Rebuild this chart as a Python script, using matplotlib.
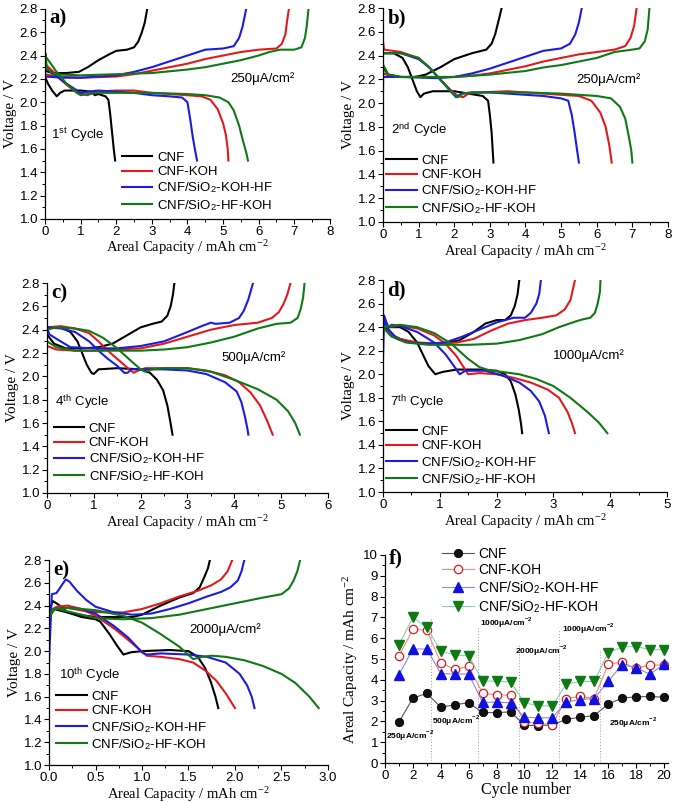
import numpy as np
import matplotlib
matplotlib.use('Agg')
import matplotlib.pyplot as plt
from matplotlib.ticker import MultipleLocator, FormatStrFormatter

# ---------------- data: (capacity, voltage) pairs ----------------
# panel a (1st cycle, 250 uA/cm2)
a_cnf_d = [(0,2.22),(0.08,2.16),(0.2,2.1),(0.33,2.05),(0.42,2.08),(0.55,2.1),(1.0,2.1),(1.3,2.09),(1.4,2.06),(1.5,2.07),(1.7,2.05),(1.78,2.02),(1.83,1.9),(1.88,1.75),(1.93,1.6),(1.97,1.5)]
a_cnf_c = [(0,2.27),(0.2,2.25),(0.6,2.25),(0.95,2.26),(1.2,2.3),(1.5,2.36),(1.8,2.41),(2.0,2.44),(2.3,2.45),(2.5,2.47),(2.62,2.52),(2.72,2.6),(2.8,2.68),(2.87,2.8)]
a_koh_d = [(0,2.33),(0.3,2.24),(0.6,2.15),(0.9,2.08),(1.05,2.07),(1.2,2.06),(1.4,2.09),(2.0,2.1),(2.5,2.1),(3.0,2.08),(3.5,2.07),(4.0,2.06),(4.4,2.05),(4.65,2.02),(4.85,1.94),(5.0,1.82),(5.08,1.72),(5.13,1.6),(5.15,1.5)]
a_koh_c = [(0,2.24),(0.3,2.22),(1.0,2.21),(2.0,2.22),(2.5,2.24),(3.0,2.27),(3.5,2.3),(4.0,2.33),(4.5,2.37),(5.0,2.4),(5.5,2.43),(6.0,2.45),(6.5,2.46),(6.65,2.5),(6.75,2.58),(6.8,2.7),(6.85,2.8)]
a_kh_d = [(0,2.3),(0.5,2.18),(1.0,2.08),(1.2,2.09),(1.5,2.1),(2.0,2.09),(2.5,2.08),(3.0,2.06),(3.5,2.05),(3.85,2.04),(4.0,2.0),(4.08,1.85),(4.15,1.7),(4.22,1.58),(4.27,1.5)]
a_kh_c = [(0,2.22),(0.5,2.21),(1.0,2.21),(1.5,2.22),(2.0,2.23),(2.5,2.26),(3.0,2.3),(3.5,2.35),(4.0,2.4),(4.4,2.44),(4.5,2.45),(5.0,2.46),(5.3,2.48),(5.45,2.55),(5.55,2.65),(5.65,2.8)]
a_hk_d = [(0,2.4),(0.3,2.27),(0.6,2.16),(0.9,2.08),(1.0,2.06),(1.2,2.07),(1.5,2.08),(2.0,2.08),(3.0,2.08),(4.0,2.07),(4.5,2.06),(4.9,2.04),(5.15,2.0),(5.3,1.93),(5.45,1.8),(5.55,1.68),(5.65,1.57),(5.7,1.5)]
a_hk_c = [(0,2.06),(0.01,2.42),(0.05,2.3),(0.2,2.24),(1.0,2.23),(2.0,2.24),(3.0,2.25),(4.0,2.28),(4.5,2.3),(5.0,2.33),(5.5,2.36),(6.0,2.4),(6.3,2.43),(6.6,2.45),(7.0,2.45),(7.2,2.47),(7.3,2.55),(7.35,2.65),(7.4,2.8)]

# panel b (2nd cycle, 250 uA/cm2)
b_cnf_d = [(0,2.42),(0.3,2.42),(0.55,2.38),(0.7,2.3),(0.85,2.18),(0.95,2.1),(1.05,2.05),(1.15,2.08),(1.4,2.1),(2.0,2.1),(2.4,2.08),(2.8,2.06),(2.95,2.02),(3.0,1.9),(3.05,1.75),(3.08,1.6),(3.1,1.5)]
b_cnf_c = [(0,2.3),(0.15,2.24),(0.5,2.22),(0.9,2.22),(1.2,2.24),(1.6,2.3),(2.0,2.37),(2.5,2.42),(2.9,2.45),(3.05,2.5),(3.15,2.58),(3.25,2.7),(3.33,2.8)]
b_koh_d = [(0,2.52),(0.03,2.45),(0.5,2.43),(1.0,2.38),(1.3,2.3),(1.6,2.2),(1.9,2.11),(2.1,2.06),(2.25,2.05),(2.4,2.08),(2.7,2.09),(3.5,2.1),(4.5,2.08),(5.5,2.06),(5.85,2.02),(6.1,1.92),(6.25,1.8),(6.35,1.65),(6.42,1.5)]
b_koh_c = [(0,2.25),(0.3,2.22),(1.0,2.22),(2.0,2.22),(2.5,2.23),(3.0,2.25),(3.5,2.28),(4.0,2.31),(4.5,2.35),(5.0,2.38),(5.5,2.41),(6.0,2.43),(6.5,2.45),(6.8,2.48),(6.95,2.55),(7.05,2.65),(7.12,2.8)]
b_kh_d = [(0,2.42),(0.5,2.42),(1.0,2.37),(1.3,2.3),(1.6,2.2),(1.9,2.1),(2.05,2.05),(2.2,2.08),(2.5,2.09),(3.0,2.09),(3.5,2.08),(4.0,2.07),(4.5,2.06),(5.0,2.04),(5.2,2.02),(5.3,1.9),(5.38,1.75),(5.45,1.6),(5.5,1.5)]
b_kh_c = [(0,2.22),(0.5,2.22),(1.5,2.21),(2.0,2.22),(2.5,2.25),(3.0,2.29),(3.5,2.34),(4.0,2.39),(4.4,2.43),(4.5,2.44),(5.0,2.46),(5.25,2.5),(5.4,2.58),(5.5,2.68),(5.58,2.8)]
b_hk_d = [(0,2.42),(0.5,2.42),(1.0,2.38),(1.3,2.3),(1.6,2.2),(1.9,2.1),(2.1,2.05),(2.25,2.08),(2.5,2.09),(3.0,2.09),(4.0,2.09),(5.0,2.08),(6.0,2.06),(6.4,2.04),(6.65,1.97),(6.8,1.87),(6.9,1.72),(6.97,1.6),(7.0,1.5)]
b_hk_c = [(0,2.1),(0.01,2.32),(0.15,2.24),(0.5,2.22),(1.0,2.22),(2.0,2.22),(3.0,2.24),(4.0,2.27),(4.5,2.3),(5.0,2.32),(5.5,2.35),(6.0,2.38),(6.5,2.43),(7.0,2.45),(7.2,2.46),(7.35,2.52),(7.43,2.62),(7.48,2.8)]

# panel c (4th cycle, 500 uA/cm2)
c_cnf_d = [(0,2.42),(0.3,2.42),(0.5,2.38),(0.65,2.3),(0.75,2.2),(0.85,2.1),(0.95,2.03),(1.0,2.02),(1.1,2.06),(1.5,2.07),(2.0,2.06),(2.2,2.03),(2.35,1.97),(2.48,1.88),(2.57,1.75),(2.63,1.62),(2.68,1.5)]
c_cnf_c = [(0,2.36),(0.15,2.28),(0.4,2.24),(0.8,2.24),(1.1,2.25),(1.4,2.28),(1.7,2.35),(2.0,2.42),(2.25,2.45),(2.45,2.47),(2.57,2.52),(2.64,2.6),(2.69,2.7),(2.72,2.8)]
c_koh_d = [(0,2.42),(0.3,2.43),(0.6,2.41),(0.9,2.37),(1.1,2.3),(1.3,2.22),(1.5,2.15),(1.7,2.08),(1.85,2.03),(1.95,2.05),(2.1,2.07),(2.5,2.07),(3.0,2.07),(3.4,2.05),(3.8,2.01),(4.1,1.95),(4.35,1.86),(4.55,1.75),(4.7,1.62),(4.82,1.5)]
c_koh_c = [(0,2.26),(0.2,2.23),(0.6,2.22),(1.0,2.22),(1.5,2.23),(2.0,2.24),(2.5,2.28),(3.0,2.34),(3.5,2.4),(4.0,2.44),(4.5,2.46),(4.8,2.5),(4.95,2.55),(5.05,2.62),(5.13,2.7),(5.2,2.8)]
c_kh_d = [(0,2.42),(0.3,2.41),(0.6,2.38),(0.9,2.3),(1.1,2.22),(1.3,2.15),(1.5,2.09),(1.65,2.03),(1.72,2.03),(1.8,2.06),(2.5,2.06),(3.0,2.05),(3.4,2.02),(3.8,1.95),(4.05,1.87),(4.15,1.78),(4.23,1.65),(4.28,1.55),(4.3,1.5)]
c_kh_c = [(0,2.42),(0.05,2.36),(0.25,2.31),(0.5,2.25),(1.0,2.24),(1.5,2.24),(2.0,2.26),(2.5,2.3),(3.0,2.38),(3.3,2.43),(3.5,2.46),(3.6,2.45),(3.9,2.46),(4.1,2.5),(4.2,2.56),(4.3,2.66),(4.4,2.8)]
c_hk_d = [(0,2.4),(0.2,2.42),(0.6,2.41),(0.9,2.39),(1.2,2.33),(1.5,2.24),(1.8,2.13),(2.0,2.06),(2.1,2.04),(2.25,2.06),(2.5,2.07),(3.0,2.07),(3.5,2.04),(4.0,1.97),(4.5,1.89),(4.9,1.8),(5.15,1.7),(5.3,1.6),(5.4,1.5)]
c_hk_c = [(0,2.3),(0.2,2.25),(0.6,2.22),(1.0,2.22),(2.0,2.22),(2.5,2.23),(3.0,2.25),(3.5,2.29),(4.0,2.34),(4.5,2.41),(4.9,2.45),(5.2,2.46),(5.35,2.5),(5.42,2.58),(5.47,2.68),(5.5,2.8)]

# panel d (7th cycle, 1000 uA/cm2)
d_cnf_d = [(0,2.4),(0.3,2.4),(0.45,2.36),(0.6,2.27),(0.7,2.17),(0.8,2.07),(0.92,2.0),(1.05,2.02),(1.3,2.04),(1.7,2.04),(2.0,2.03),(2.15,2.0),(2.25,1.94),(2.33,1.83),(2.39,1.7),(2.43,1.58),(2.45,1.5)]
d_cnf_c = [(0,2.42),(0.12,2.34),(0.3,2.3),(0.5,2.27),(0.8,2.26),(1.1,2.26),(1.35,2.29),(1.6,2.36),(1.8,2.43),(2.0,2.46),(2.15,2.46),(2.25,2.5),(2.32,2.58),(2.37,2.68),(2.4,2.8)]
d_koh_d = [(0,2.4),(0.3,2.41),(0.6,2.39),(0.9,2.33),(1.1,2.26),(1.3,2.15),(1.42,2.06),(1.5,2.0),(1.7,2.01),(2.0,2.0),(2.3,1.97),(2.6,1.93),(2.9,1.87),(3.1,1.8),(3.25,1.68),(3.33,1.58),(3.38,1.5)]
d_koh_c = [(0,2.4),(0.1,2.35),(0.3,2.3),(0.6,2.27),(1.0,2.26),(1.3,2.27),(1.6,2.3),(1.9,2.37),(2.2,2.43),(2.5,2.46),(2.8,2.48),(3.05,2.5),(3.2,2.55),(3.3,2.63),(3.38,2.8)]
d_kh_d = [(0,2.12),(0.02,2.5),(0.06,2.44),(0.1,2.4),(0.15,2.42),(0.3,2.41),(0.6,2.36),(0.9,2.27),(1.1,2.17),(1.25,2.07),(1.35,2.0),(1.45,2.03),(1.8,2.03),(2.1,1.99),(2.4,1.93),(2.6,1.86),(2.75,1.77),(2.85,1.65),(2.92,1.5)]
d_kh_c = [(0.02,2.45),(0.1,2.38),(0.25,2.3),(0.45,2.27),(0.8,2.26),(1.1,2.27),(1.4,2.32),(1.7,2.38),(2.0,2.44),(2.3,2.48),(2.5,2.48),(2.6,2.52),(2.7,2.6),(2.75,2.68),(2.78,2.8)]
d_hk_d = [(0,2.4),(0.3,2.42),(0.6,2.4),(0.9,2.35),(1.2,2.26),(1.5,2.13),(1.7,2.06),(1.9,2.03),(2.1,2.02),(2.4,2.0),(2.7,1.96),(3.0,1.9),(3.3,1.8),(3.6,1.68),(3.8,1.59),(3.95,1.5)]
d_hk_c = [(0,2.4),(0.15,2.32),(0.4,2.27),(0.8,2.25),(1.5,2.25),(2.0,2.26),(2.4,2.29),(2.8,2.34),(3.1,2.4),(3.4,2.45),(3.55,2.47),(3.65,2.48),(3.73,2.52),(3.78,2.6),(3.82,2.7),(3.83,2.8)]

# panel e (10th cycle, 2000 uA/cm2)
e_cnf_d = [(0,2.35),(0.04,2.44),(0.1,2.41),(0.2,2.34),(0.35,2.3),(0.5,2.28),(0.55,2.26),(0.65,2.15),(0.73,2.05),(0.8,1.97),(0.88,1.99),(1.0,2.0),(1.3,2.01),(1.5,2.0),(1.6,1.95),(1.68,1.85),(1.74,1.73),(1.79,1.6),(1.82,1.5)]
e_cnf_c = [(0,2.3),(0.05,2.37),(0.15,2.35),(0.3,2.32),(0.5,2.3),(0.7,2.3),(0.9,2.3),(1.0,2.32),(1.2,2.4),(1.4,2.47),(1.55,2.51),(1.62,2.56),(1.67,2.65),(1.71,2.73),(1.73,2.8)]
e_koh_d = [(0,2.3),(0.08,2.39),(0.2,2.4),(0.35,2.37),(0.5,2.31),(0.7,2.2),(0.85,2.1),(0.95,2.03),(1.05,1.96),(1.2,1.95),(1.4,1.93),(1.55,1.9),(1.68,1.83),(1.8,1.74),(1.9,1.63),(2.0,1.5)]
e_koh_c = [(0,2.3),(0.05,2.37),(0.2,2.38),(0.4,2.35),(0.6,2.34),(0.8,2.34),(1.0,2.37),(1.2,2.42),(1.4,2.48),(1.6,2.53),(1.75,2.58),(1.85,2.63),(1.92,2.7),(1.97,2.8)]
e_kh_d = [(0,2.3),(0.05,2.37),(0.2,2.38),(0.35,2.37),(0.5,2.33),(0.7,2.22),(0.85,2.12),(1.0,1.99),(1.05,1.97),(1.2,1.98),(1.5,1.97),(1.7,1.95),(1.9,1.9),(2.05,1.8),(2.13,1.7),(2.18,1.6),(2.21,1.5)]
e_kh_c = [(0,1.9),(0.02,2.3),(0.03,2.5),(0.08,2.51),(0.13,2.57),(0.18,2.63),(0.22,2.61),(0.3,2.53),(0.4,2.45),(0.5,2.39),(0.7,2.34),(0.9,2.32),(1.1,2.33),(1.3,2.37),(1.5,2.42),(1.7,2.48),(1.85,2.52),(1.95,2.56),(2.03,2.62),(2.07,2.7),(2.1,2.8)]
e_hk_d = [(0,2.3),(0.06,2.37),(0.2,2.38),(0.5,2.36),(0.8,2.31),(1.0,2.25),(1.2,2.15),(1.4,2.04),(1.55,1.93),(1.65,1.95),(1.75,1.96),(1.9,1.95),(2.1,1.92),(2.3,1.87),(2.5,1.8),(2.65,1.72),(2.8,1.6),(2.9,1.5)]
e_hk_c = [(0,2.32),(0.06,2.38),(0.15,2.36),(0.3,2.33),(0.5,2.29),(0.8,2.28),(1.1,2.29),(1.4,2.32),(1.7,2.37),(2.0,2.42),(2.3,2.47),(2.5,2.5),(2.58,2.55),(2.63,2.62),(2.67,2.7),(2.7,2.8)]

# panel f (rate capability)
cycles = list(range(1, 21))
f_cnf = [1.97, 3.12, 3.35, 2.68, 2.8, 2.9, 2.43, 2.42, 2.46, 1.82, 1.8, 1.83, 2.1, 2.2, 2.28, 2.83, 3.12, 3.18, 3.2, 3.16]
f_koh = [5.15, 6.42, 6.38, 4.82, 4.5, 4.65, 3.35, 3.28, 3.25, 1.97, 1.9, 1.85, 3.1, 3.2, 3.1, 4.75, 4.85, 4.55, 4.72, 4.7]
f_kh = [4.25, 5.48, 5.48, 4.3, 4.28, 4.28, 2.92, 2.92, 2.9, 2.2, 2.17, 2.18, 2.93, 3.05, 3.1, 3.92, 4.72, 4.58, 4.27, 4.75]
f_hk = [5.68, 7.0, 6.52, 5.38, 5.2, 5.15, 3.95, 3.93, 3.9, 2.9, 2.75, 2.75, 3.8, 3.92, 3.92, 5.3, 5.58, 5.6, 5.45, 5.45]
f_dividers = [3.3, 6.7, 9.6, 12.5, 15.4]
f_divider_tops = [6.9, 6.6, 5.7, 6.4, 5.5]
f_rates = ['250', '500', '1000', '2000', '1000', '250']
f_rate_xy = [(0.05, 1.28), (3.4, 2.0), (6.8, 6.72), (9.35, 5.36), (12.7, 6.43), (16.1, 1.92)]

labels = ['CNF', 'CNF-KOH', r'CNF/SiO$_\mathregular{2}$-KOH-HF', r'CNF/SiO$_\mathregular{2}$-HF-KOH']
colors = ['#000000', '#e3191c', '#1c1ce0', '#0f7a14']

# ---------------- style ----------------
plt.rcParams['font.family'] = ['Liberation Sans', 'DejaVu Sans']
plt.rcParams['mathtext.fontset'] = 'stix'
SERIF = ['Liberation Serif', 'DejaVu Serif']
XLABEL = r'Areal Capacity / mAh cm$^{\mathregular{-2}}$'

fig = plt.figure(figsize=(6.75, 8.02), dpi=100)


def style_axes(ax):
    for s in ('top', 'right'):
        ax.spines[s].set_visible(False)
    for s in ('left', 'bottom'):
        ax.spines[s].set_linewidth(0.9)
    ax.tick_params(which='major', direction='out', length=3.5, width=0.8, labelsize=9.5, pad=1.5)
    ax.tick_params(which='minor', direction='out', length=2, width=0.7)


def vc_panel(rect, sets, xmax, xstep, xfmt, letter, rate, rate_xy, cyc, cyc_xy, leg_anchor):
    ax = fig.add_axes(rect)
    style_axes(ax)
    for (dis, chg), col, lab in zip(sets, colors, labels):
        d = np.array(dis)
        c = np.array(chg)
        ax.plot(d[:, 0], d[:, 1], color=col, lw=1.5, label=lab, solid_joinstyle='round')
        ax.plot(c[:, 0], c[:, 1], color=col, lw=1.5, solid_joinstyle='round')
    ax.set_xlim(0, xmax)
    ax.set_ylim(1.0, 2.8)
    ax.xaxis.set_major_locator(MultipleLocator(xstep))
    ax.xaxis.set_minor_locator(MultipleLocator(xstep / 2))
    ax.xaxis.set_major_formatter(FormatStrFormatter(xfmt))
    ax.yaxis.set_major_locator(MultipleLocator(0.2))
    ax.yaxis.set_minor_locator(MultipleLocator(0.1))
    ax.yaxis.set_major_formatter(FormatStrFormatter('%.1f'))
    ax.set_xlabel(XLABEL, family=SERIF, fontsize=10.5, labelpad=0)
    ax.set_ylabel('Voltage / V', family=SERIF, fontsize=11, labelpad=2)
    ax.text(0.015, 1.0, letter, transform=ax.transAxes, ha='left', va='top',
            family=SERIF, fontweight='bold', fontsize=15)
    ax.text(rate_xy[0], rate_xy[1], rate + 'μA/cm²', ha='left', va='center', fontsize=9.5)
    ax.text(cyc_xy[0], cyc_xy[1], cyc + ' Cycle', ha='left', va='center', fontsize=9.5)
    ax.legend(loc='lower left', bbox_to_anchor=leg_anchor, frameon=False, fontsize=9.5,
              handlelength=2.3, handletextpad=0.35, labelspacing=0.18,
              borderpad=0, borderaxespad=0)
    return ax


vc_panel([0.0667, 0.727, 0.422, 0.262],
         [(a_cnf_d, a_cnf_c), (a_koh_d, a_koh_c), (a_kh_d, a_kh_c), (a_hk_d, a_hk_c)],
         8, 1, '%d', 'a)', '250', (5.2, 2.2), r'1$^{\mathregular{st}}$', (0.17, 1.72), (0.27, 0.03))
vc_panel([0.5674, 0.7232, 0.4222, 0.2668],
         [(b_cnf_d, b_cnf_c), (b_koh_d, b_koh_c), (b_kh_d, b_kh_c), (b_hk_d, b_hk_c)],
         8, 1, '%d', 'b)', '250', (5.43, 2.2), r'2$^{\mathregular{nd}}$', (0.23, 1.77), (0.012, 0.03))
vc_panel([0.0696, 0.3853, 0.4163, 0.2618],
         [(c_cnf_d, c_cnf_c), (c_koh_d, c_koh_c), (c_kh_d, c_kh_c), (c_hk_d, c_hk_c)],
         6, 1, '%d', 'c)', '500', (3.73, 2.16), r'4$^{\mathregular{th}}$', (0.18, 1.78), (0.024, 0.045))
vc_panel([0.5674, 0.3865, 0.4207, 0.2643],
         [(d_cnf_d, d_cnf_c), (d_koh_d, d_koh_c), (d_kh_d, d_kh_c), (d_hk_d, d_hk_c)],
         5, 1, '%d', 'd)', '1000', (3.0, 2.16), r'7$^{\mathregular{th}}$', (0.12, 1.76), (0.012, 0.025))
vc_panel([0.0726, 0.0461, 0.4133, 0.2556],
         [(e_cnf_d, e_cnf_c), (e_koh_d, e_koh_c), (e_kh_d, e_kh_c), (e_hk_d, e_hk_c)],
         3, 0.5, '%.1f', 'e)', '2000', (1.51, 2.19), r'10$^{\mathregular{th}}$', (0.11, 1.79), (0.026, 0.065))

# ---------------- panel f ----------------
axf = fig.add_axes([0.5704, 0.0486, 0.4193, 0.2594])
style_axes(axf)
for xv, top in zip(f_dividers, f_divider_tops):
    axf.plot([xv, xv], [0, top], ls=(0, (1, 2)), color='#9a9a9a', lw=0.7)
axf.plot(cycles, f_cnf, '-', color='#555555', lw=0.8, marker='o', ms=6,
         mfc='#111111', mec='#000000', mew=0.6, label='CNF')
axf.plot(cycles, f_koh, '-', color='#f08a8a', lw=0.8, marker='o', ms=6,
         mfc='white', mec='#e3191c', mew=0.9, label='CNF-KOH')
axf.plot(cycles, f_kh, '-', color='#8a8ae8', lw=0.8, marker='^', ms=6.5,
         mfc='#1010e0', mec='#1010e0', label=labels[2])
axf.plot(cycles, f_hk, '-', color='#86d0b4', lw=0.8, marker='v', ms=6.5,
         mfc='#0f7a14', mec='#0f7a14', label=labels[3])
for r, (tx, ty) in zip(f_rates, f_rate_xy):
    axf.text(tx, ty, r + r'μA/cm$^{\mathregular{-2}}$', fontsize=6, fontweight='bold',
             ha='left', va='center')
axf.set_xlim(0, 20.3)
axf.set_ylim(0, 10)
axf.xaxis.set_major_locator(MultipleLocator(2))
axf.xaxis.set_minor_locator(MultipleLocator(1))
axf.yaxis.set_major_locator(MultipleLocator(1))
axf.yaxis.set_minor_locator(MultipleLocator(0.5))
axf.set_xlabel('Cycle number', family=SERIF, fontsize=11.5, labelpad=0)
axf.set_ylabel(XLABEL, family=SERIF, fontsize=11, labelpad=2)
axf.text(0.015, 1.03, 'f)', transform=axf.transAxes, ha='left', va='top',
         family=SERIF, fontweight='bold', fontsize=15)
axf.legend(loc='upper left', bbox_to_anchor=(0.2, 1.04), frameon=False, fontsize=10,
           handlelength=2.3, handletextpad=0.35, labelspacing=0.15,
           borderpad=0, borderaxespad=0)

fig.savefig('out.png', dpi=100)
